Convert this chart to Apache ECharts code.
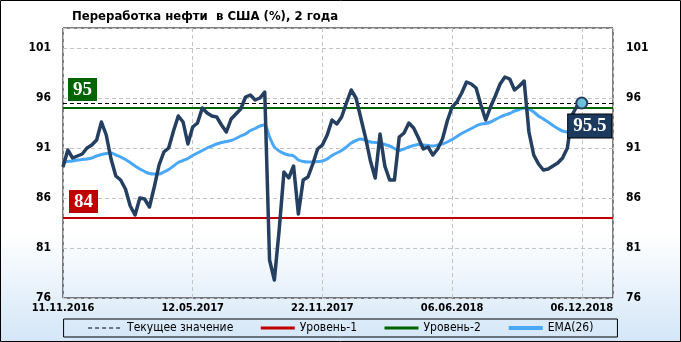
<!DOCTYPE html>
<html>
<head>
<meta charset="utf-8">
<script src="https://cdn.jsdelivr.net/npm/echarts@6/dist/echarts.min.js"></script>
<style>
  html, body { margin: 0; padding: 0; background: #fff; }
  #chart { width: 681px; height: 342px; }
</style>
</head>
<body>
<div id="chart"></div>
<script>
const titleText = 'Переработка нефти  в США (%), 2 года';
const xTickLabels = ['11.11.2016', '12.05.2017', '22.11.2017', '06.06.2018', '06.12.2018'];
const weeksPerTick = 27;
const yTicks = [76, 81, 86, 91, 96, 101];

const refining = [
  89.1, 90.8, 90.0, 90.2, 90.4, 91.0, 91.3, 91.8, 93.6, 92.3,
  89.9, 88.2, 87.8, 86.9, 85.2, 84.3, 86.0, 85.9, 85.1, 87.1,
  89.3, 90.6, 91.0, 92.7, 94.2, 93.6, 91.4, 93.1, 93.5, 95.0,
  94.5, 94.2, 94.1, 93.3, 92.6, 93.9, 94.4, 94.9, 96.1, 96.3,
  95.8, 96.0, 96.6, 79.8, 77.8, 82.8, 88.6, 88.0, 89.2, 84.4,
  87.8, 88.1, 89.4, 90.9, 91.3, 92.3, 93.8, 93.4, 94.1, 95.5,
  96.8, 96.0, 94.0, 92.0, 89.7, 88.0, 92.4, 89.2, 87.8, 87.8,
  92.1, 92.5, 93.5, 93.0, 92.0, 90.9, 91.1, 90.3, 90.9, 91.9,
  93.7, 95.1, 95.6, 96.5, 97.6, 97.4, 97.0, 95.3, 93.8, 95.1,
  96.2, 97.4, 98.1, 97.9, 96.8, 97.2, 97.7, 92.6, 90.3, 89.4,
  88.8, 88.9, 89.2, 89.5, 90.0, 91.0, 94.3, 95.2, 95.5
];

const ema26 = [
  89.6, 89.65, 89.7, 89.8, 89.85, 89.9, 90.0, 90.2, 90.35, 90.45,
  90.5, 90.3, 90.1, 89.85, 89.55, 89.2, 88.9, 88.65, 88.45, 88.4,
  88.4, 88.6, 88.85, 89.2, 89.55, 89.75, 89.95, 90.25, 90.5, 90.75,
  91.0, 91.2, 91.4, 91.55, 91.65, 91.75, 91.95, 92.2, 92.4, 92.75,
  92.95, 93.2, 93.3, 92.1, 91.1, 90.7, 90.45, 90.3, 90.2, 89.8,
  89.65, 89.6, 89.6, 89.65, 89.7, 89.9, 90.25, 90.5, 90.75, 91.1,
  91.5, 91.75, 91.9, 91.75, 91.6, 91.55, 91.5, 91.35, 91.2, 90.95,
  90.75, 90.9, 91.1, 91.25, 91.35, 91.3, 91.25, 91.2, 91.3, 91.4,
  91.6, 91.85, 92.15, 92.45, 92.7, 92.95, 93.2, 93.4, 93.45, 93.6,
  93.85, 94.1, 94.3, 94.45, 94.7, 94.85, 95.0, 94.9, 94.6, 94.2,
  93.9, 93.6, 93.25, 92.95, 92.7, 92.6, 92.6, 92.7, 92.8
];

const level1 = 84;
const level2 = 95;
const currentValue = refining[refining.length - 1];

const chart = echarts.init(document.getElementById('chart'), null, { renderer: 'canvas' });

const boldFont = 'DejaVu Sans Condensed';
const serifFont = 'Liberation Serif';

const option = {
  animation: false,
  backgroundColor: {
    type: 'linear', x: 0, y: 0, x2: 0, y2: 1,
    colorStops: [
      { offset: 0, color: '#FFFFFF' },
      { offset: 0.68, color: '#FFFFFF' },
      { offset: 1, color: '#D3E6F8' }
    ]
  },
  title: {
    text: titleText,
    left: 67, top: 5,
    textStyle: { fontFamily: boldFont, fontWeight: 'bold', fontSize: 13, color: '#000' }
  },
  graphic: [{
    type: 'rect', silent: true, z: 100,
    shape: { x: 0.5, y: 0.5, width: 680, height: 341 },
    style: { fill: null, stroke: '#000', lineWidth: 1 }
  }],
  legend: {
    data: [
      { name: 'Текущее значение', lineStyle: { width: 1, type: [4, 3] } },
      { name: 'Уровень-1', lineStyle: { width: 3 } },
      { name: 'Уровень-2', lineStyle: { width: 3 } },
      { name: 'EMA(26)', lineStyle: { width: 4 } }
    ],
    left: 'center', bottom: 5,
    padding: [3, 24, 3, 24],
    borderColor: '#000', borderWidth: 1,
    itemWidth: 34, itemHeight: 8, itemGap: 26,
    itemStyle: { opacity: 0 },
    textStyle: { fontFamily: boldFont, fontSize: 12, color: '#000' }
  },
  grid: { left: 63, right: 68, top: 28, bottom: 44, show: true, borderColor: '#000', borderWidth: 1, backgroundColor: 'transparent' },
  xAxis: {
    type: 'value', min: 0, max: 114.5, interval: weeksPerTick,
    axisLine: { show: false }, axisTick: { show: false },
    axisLabel: {
      margin: 5, fontFamily: boldFont, fontWeight: 'bold', fontSize: 11, color: '#000',
      formatter: v => { const k = v / weeksPerTick; return Number.isInteger(k) && xTickLabels[k] ? xTickLabels[k] : ''; }
    },
    splitLine: { show: true, lineStyle: { color: '#C4C4C4', type: [4, 3], width: 1 } }
  },
  yAxis: [{
    type: 'value', min: 76, max: 103, interval: 5, position: 'left',
    axisLine: { show: false }, axisTick: { show: false },
    axisLabel: {
      margin: 12, fontFamily: boldFont, fontWeight: 'bold', fontSize: 12, color: '#000',
      formatter: v => yTicks.includes(v) ? String(v) : ''
    },
    splitLine: { show: true, lineStyle: { color: '#C4C4C4', type: [4, 3], width: 1 } }
  }, {
    type: 'value', min: 76, max: 103, interval: 5, position: 'right',
    axisLine: { show: false }, axisTick: { show: false },
    axisLabel: {
      margin: 13, fontFamily: boldFont, fontWeight: 'bold', fontSize: 12, color: '#000',
      formatter: v => yTicks.includes(v) ? String(v) : ''
    },
    splitLine: { show: false }
  }],
  series: [
    {
      name: 'Текущее значение', type: 'line', data: [], symbol: 'none',
      lineStyle: { color: '#000', width: 1, type: [4, 3] },
      itemStyle: { color: '#000' },
      markLine: {
        silent: true, symbol: 'none', animation: false,
        lineStyle: { color: '#000', width: 1, type: [4, 3] },
        label: { show: false },
        data: [{ yAxis: currentValue }]
      }, z: 3
    },
    {
      name: 'Уровень-1', type: 'line', data: [], symbol: 'none',
      lineStyle: { color: '#C00000', width: 2 },
      itemStyle: { color: '#C00000' },
      markLine: {
        silent: true, symbol: 'none', animation: false,
        lineStyle: { color: '#C00000', width: 2, type: 'solid' },
        label: {
          show: true, position: 'insideStartTop', distance: [6, 5],
          formatter: String(level1),
          fontFamily: serifFont, fontWeight: 'bold', fontSize: 19, color: '#fff',
          backgroundColor: '#C00000', padding: [2, 5, 1, 5], lineHeight: 20
        },
        data: [{ yAxis: level1 }]
      }, z: 3
    },
    {
      name: 'Уровень-2', type: 'line', data: [], symbol: 'none',
      lineStyle: { color: '#006400', width: 2 },
      itemStyle: { color: '#006400' },
      markLine: {
        silent: true, symbol: 'none', animation: false,
        lineStyle: { color: '#006400', width: 2, type: 'solid' },
        label: {
          show: true, position: 'insideStartTop', distance: [5, 7],
          formatter: String(level2),
          fontFamily: serifFont, fontWeight: 'bold', fontSize: 19, color: '#fff',
          backgroundColor: '#006400', padding: [2, 5, 1, 5], lineHeight: 20
        },
        data: [{ yAxis: level2 }]
      }, z: 3
    },
    {
      name: 'EMA(26)', type: 'line', symbol: 'none', smooth: 0.3,
      data: ema26.map((v, i) => [i, v]),
      lineStyle: { color: '#4AA8FA', width: 3 },
      itemStyle: { color: '#4AA8FA' }, z: 4
    },
    {
      name: 'Переработка', type: 'line', symbol: 'none',
      data: refining.map((v, i) => [i, v]),
      lineStyle: { color: '#243F60', width: 3.5, join: 'round' },
      itemStyle: { color: '#243F60' }, z: 5
    },
    {
      name: 'Последнее', type: 'scatter', symbol: 'circle', symbolSize: 11,
      data: [[refining.length - 1, currentValue]],
      itemStyle: { color: '#6CC0D8', borderColor: '#243F60', borderWidth: 2, opacity: 1 },
      label: {
        show: true, position: 'bottom', distance: 5, offset: [8, 0],
        formatter: p => String(p.value[1]),
        fontFamily: serifFont, fontWeight: 'bold', fontSize: 19, color: '#fff',
        backgroundColor: '#1C3A5E', borderColor: '#000', borderWidth: 1,
        padding: [2, 5, 1, 5], lineHeight: 20, opacity: 1
      }, z: 10
    }
  ]
};

chart.setOption(option);
</script>
</body>
</html>
